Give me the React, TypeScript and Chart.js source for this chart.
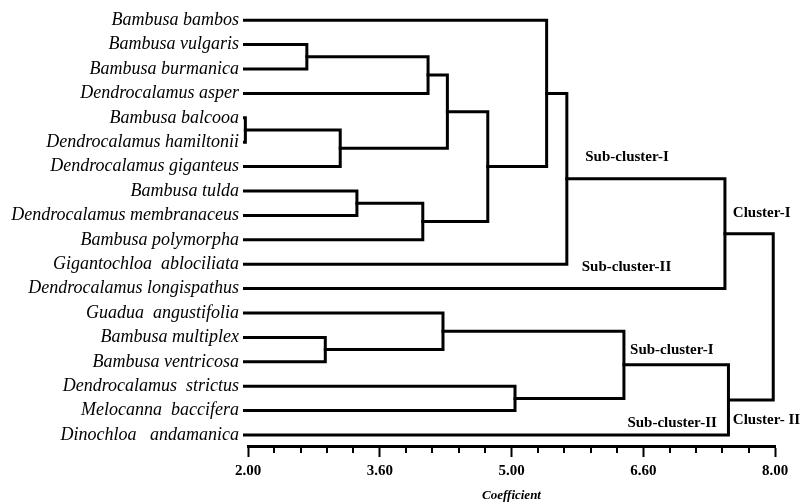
import React, { useEffect, useRef } from "react";
import { Chart, registerables } from "chart.js";

Chart.register(...registerables);

// Leaves (top to bottom)
const leaves = [
  "Bambusa bambos",
  "Bambusa vulgaris",
  "Bambusa burmanica",
  "Dendrocalamus asper",
  "Bambusa balcooa",
  "Dendrocalamus hamiltonii",
  "Dendrocalamus giganteus",
  "Bambusa tulda",
  "Dendrocalamus membranaceus",
  "Bambusa polymorpha",
  "Gigantochloa  ablociliata",
  "Dendrocalamus longispathus",
  "Guadua  angustifolia",
  "Bambusa multiplex",
  "Bambusa ventricosa",
  "Dendrocalamus  strictus",
  "Melocanna  baccifera",
  "Dinochloa   andamanica",
];
const leafHeight = 1.96;

// Merges: child ids (leaf index < 18, merge k => 18 + k) and join coefficient
const mergeLeft = [1, 18, 4, 20, 19, 7, 23, 22, 0, 26, 27, 13, 12, 15, 30, 32, 28];
const mergeRight = [2, 3, 5, 6, 21, 8, 9, 24, 25, 10, 11, 14, 29, 16, 31, 17, 33];
const mergeHeight = [2.67, 4.05, 1.97, 3.05, 4.27, 3.24, 3.99, 4.73, 5.4, 5.63, 7.43, 2.88, 4.22, 5.04, 6.28, 7.47, 7.98];

// Axis ticks
const xMajorValues = [2, 3.5, 5, 6.5, 8];
const xTickLabels = ["2.00", "3.60", "5.00", "6.60", "8.00"];
const xMinorStep = 0.3;
const xTitle = "Coefficient";

// Cluster annotations
const clusterLabels = ["Sub-cluster-I", "Cluster-I", "Sub-cluster-II", "Sub-cluster-I", "Sub-cluster-II", "Cluster- II"];
const clusterX = [5.84, 7.52, 5.8, 6.35, 6.32, 7.52];
const clusterY = [5.61, 7.91, 10.12, 13.52, 16.51, 16.39];

const SERIF = "'Liberation Serif', 'Times New Roman', serif";

function buildDatasets() {
  const n = leaves.length;
  const nodeX: number[] = [];
  const nodeY: number[] = [];
  leaves.forEach((_, i) => {
    nodeX[i] = leafHeight;
    nodeY[i] = i;
  });
  const sets: any[] = [];
  mergeHeight.forEach((h, k) => {
    const a = mergeLeft[k];
    const b = mergeRight[k];
    nodeX[n + k] = h;
    nodeY[n + k] = (nodeY[a] + nodeY[b]) / 2;
    sets.push({
      data: [
        { x: nodeX[a], y: nodeY[a] },
        { x: h, y: nodeY[a] },
        { x: h, y: nodeY[b] },
        { x: nodeX[b], y: nodeY[b] },
      ],
      borderColor: "#000",
      borderWidth: 3,
      borderJoinStyle: "miter",
      borderCapStyle: "square",
      pointRadius: 0,
      tension: 0,
      fill: false,
      clip: false,
    });
  });
  return sets;
}

const overlayPlugin = {
  id: "overlay",
  afterDraw(chart: any) {
    const { ctx, scales } = chart;
    const xs = scales.x;
    const ys = scales.y;
    ctx.save();
    // minor ticks
    ctx.strokeStyle = "#000";
    ctx.lineWidth = 2;
    const bottom = chart.chartArea.bottom;
    for (let k = 0; k <= 20; k++) {
      const v = 2 + k * xMinorStep;
      if (xMajorValues.some((m) => Math.abs(m - v) < 1e-6)) continue;
      const px = Math.round(xs.getPixelForValue(v));
      ctx.beginPath();
      ctx.moveTo(px, bottom);
      ctx.lineTo(px, bottom + 7);
      ctx.stroke();
    }
    // cluster labels
    ctx.fillStyle = "#000";
    ctx.font = `bold 15px ${SERIF}`;
    ctx.textAlign = "left";
    ctx.textBaseline = "middle";
    clusterLabels.forEach((t, i) => {
      ctx.fillText(t, xs.getPixelForValue(clusterX[i]), ys.getPixelForValue(clusterY[i]));
    });
    ctx.restore();
  },
};

export default function App() {
  const ref = useRef<HTMLCanvasElement | null>(null);
  useEffect(() => {
    document.body.style.margin = "0";
    const canvas = ref.current;
    if (!canvas) return;
    const chart = new Chart(canvas, {
      type: "line",
      data: { datasets: buildDatasets() },
      options: {
        animation: false,
        responsive: false,
        devicePixelRatio: 1,
        layout: { padding: { top: 8, right: 29, bottom: 0, left: 0 } },
        plugins: { legend: { display: false }, tooltip: { enabled: false } },
        events: [],
        scales: {
          x: {
            type: "linear",
            min: 2,
            max: 8,
            afterBuildTicks: (scale: any) => {
              scale.ticks = xMajorValues.map((v) => ({ value: v }));
            },
            afterFit: (scale: any) => {
              scale.height = 58;
            },
            ticks: {
              autoSkip: false,
              maxRotation: 0,
              padding: 5,
              color: "#000",
              font: { family: SERIF, size: 15, weight: "bold" },
              callback: (_v: any, i: number) => xTickLabels[i],
            },
            grid: {
              display: true,
              drawOnChartArea: false,
              drawTicks: true,
              tickLength: 11,
              tickWidth: 2,
              tickColor: "#000",
            },
            border: { display: true, color: "#000", width: 3 },
            title: {
              display: true,
              text: xTitle,
              color: "#000",
              font: { family: SERIF, size: 13, weight: "bold", style: "italic" },
              padding: { top: 0, bottom: 1 },
            },
          },
          y: {
            type: "linear",
            reverse: true,
            min: -0.5,
            max: 17.45,
            afterBuildTicks: (scale: any) => {
              scale.ticks = leaves.map((_, i) => ({ value: i }));
            },
            afterFit: (scale: any) => {
              scale.width = 248;
              scale.paddingTop = 0;
              scale.paddingBottom = 0;
            },
            ticks: {
              autoSkip: false,
              padding: 9,
              color: "#000",
              font: { family: SERIF, size: 18, style: "italic" },
              callback: (_v: any, i: number) => leaves[i],
            },
            grid: { display: false, drawTicks: false },
            border: { display: false },
          },
        },
      },
      plugins: [overlayPlugin],
    } as any);
    return () => chart.destroy();
  }, []);
  return (
    <div style={{ width: 804, height: 504, background: "#fff" }}>
      <canvas ref={ref} width={804} height={504} style={{ display: "block" }} />
    </div>
  );
}
